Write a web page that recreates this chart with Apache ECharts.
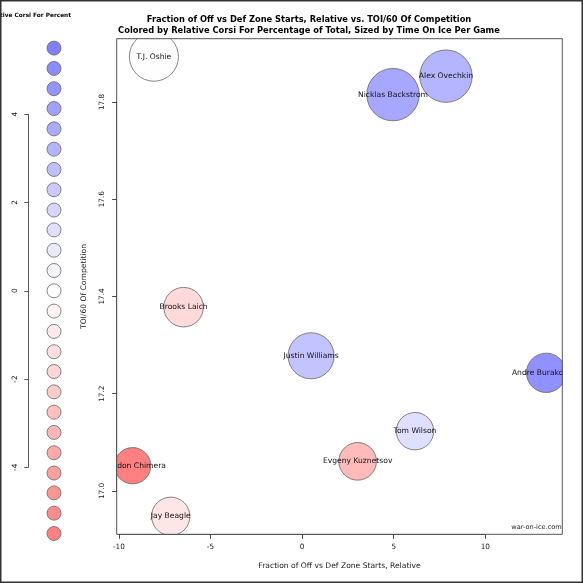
<!DOCTYPE html>
<html>
<head>
<meta charset="utf-8">
<script src="https://cdn.jsdelivr.net/npm/echarts@6.0.0/dist/echarts.min.js"></script>
<style>
  html, body { margin: 0; padding: 0; background: #fff; }
  #main { width: 583px; height: 583px; }
</style>
</head>
<body>
<div id="main"></div>
<script>
// players
var players = ['T.J. Oshie', 'Nicklas Backstrom', 'Alex Ovechkin', 'Brooks Laich', 'Justin Williams',
               'Andre Burakovsky', 'Tom Wilson', 'Evgeny Kuznetsov', 'Brandon Chimera', 'Jay Beagle'];
var zoneStartsRel = [-8.09, 4.96, 7.85, -6.47, 0.49, 13.32, 6.16, 3.03, -9.25, -7.17];
var toiComp = [17.893, 17.815, 17.853, 17.378, 17.278, 17.243, 17.123, 17.061, 17.052, 16.948];
var corsiRel = [0.05, 3.8, 3.2, -1.6, 2.6, 4.8, 1.4, -3.0, -5.5, -1.1];
var toiPerGame = [17.7, 20.2, 20.2, 11.5, 15.6, 11.4, 10.3, 10.4, 9.7, 10.8];

// colour key
var keyValues = [5.5, 5.04, 4.58, 4.13, 3.67, 3.21, 2.75, 2.29, 1.83, 1.38, 0.92, 0.46, 0,
                 -0.46, -0.92, -1.38, -1.83, -2.29, -2.75, -3.21, -3.67, -4.13, -4.58, -5.04, -5.5];

var font = 'DejaVu Sans';
var bubbles = players.map(function (p, i) {
    return [zoneStartsRel[i], toiComp[i], corsiRel[i], toiPerGame[i], p];
});
var key = keyValues.map(function (v) { return ['', v]; });

var tickLabel = {fontFamily: font, fontSize: 7.3, color: '#222'};

var myChart = echarts.init(document.getElementById('main'));
option = {
    backgroundColor: '#fff',
    animation: false,
    title: {
        text: 'Fraction of Off vs Def Zone Starts, Relative vs. TOI/60 Of Competition\nColored by Relative Corsi For Percentage of Total, Sized by Time On Ice Per Game',
        left: 304,
        top: 9,
        textAlign: 'center',
        z: 10,
        textStyle: {fontFamily: font, fontSize: 8.3, fontWeight: 'bold', color: '#000', lineHeight: 11}
    },
    grid: [
        // plot box
        {left: 116.7, top: 38.7, right: 20.7, bottom: 48.7, show: true, borderColor: '#555', borderWidth: 1, z: 10},
        // colour key
        {left: 28.3, top: 114.3, width: 51.4, height: 353},
        // R-style axes spanning only the tick range (-10..10 and 17.0..17.8)
        {left: 118.9, top: 38.7, width: 366.4, bottom: 48.7},
        {left: 116.7, right: 20.7, top: 101.9, height: 389.1}
    ],
    xAxis: [
        {
            type: 'value', gridIndex: 0, min: -10.12, max: 14.2, z: 10,
            name: 'Fraction of Off vs Def Zone Starts, Relative',
            nameLocation: 'middle', nameGap: 28,
            nameTextStyle: {fontFamily: font, fontSize: 7.6, color: '#222'},
            splitLine: {show: false},
            axisLine: {show: false, onZero: false},
            axisTick: {show: false},
            axisLabel: {show: false}
        },
        {type: 'category', gridIndex: 1, data: [''], show: false},
        {
            type: 'value', gridIndex: 2, min: -10, max: 10, interval: 5, z: 10,
            splitLine: {show: false},
            axisLine: {show: true, onZero: false, lineStyle: {color: '#555'}},
            axisTick: {show: true, length: 4.5, lineStyle: {color: '#444'}},
            axisLabel: Object.assign({margin: 9}, tickLabel)
        },
        {type: 'value', gridIndex: 3, min: 0, max: 1, show: false}
    ],
    yAxis: [
        {
            type: 'value', gridIndex: 0, min: 16.911, max: 17.93, z: 10,
            name: 'TOI/60 Of Competition',
            nameLocation: 'middle', nameGap: 29, nameRotate: 90,
            nameTextStyle: {fontFamily: font, fontSize: 7.6, color: '#222'},
            splitLine: {show: false},
            axisLine: {show: false, onZero: false},
            axisTick: {show: false},
            axisLabel: {show: false}
        },
        {
            type: 'value', gridIndex: 1, min: -4, max: 4, interval: 2, z: 10,
            splitLine: {show: false},
            axisLine: {show: true, onZero: false, lineStyle: {color: '#555'}},
            axisTick: {show: true, length: 4, lineStyle: {color: '#555'}},
            axisLabel: Object.assign({rotate: 90, margin: 10}, tickLabel)
        },
        {type: 'value', gridIndex: 2, min: 0, max: 1, show: false},
        {
            type: 'value', gridIndex: 3, min: 17.0, max: 17.8, interval: 0.2, z: 10,
            splitLine: {show: false},
            axisLine: {show: true, onZero: false, lineStyle: {color: '#555'}},
            axisTick: {show: true, length: 4.5, lineStyle: {color: '#444'}},
            axisLabel: Object.assign({
                rotate: 90, margin: 11,
                formatter: function (v) { return v.toFixed(1); }
            }, tickLabel)
        }
    ],
    visualMap: [
        {type: 'continuous', show: false, seriesIndex: 0, dimension: 2, min: -5.5, max: 5.5,
         inRange: {color: ['#ff8080', '#ffffff', '#8080ff']}},
        {type: 'continuous', show: false, seriesIndex: 1, dimension: 1, min: -5.5, max: 5.5,
         inRange: {color: ['#ff8080', '#ffffff', '#8080ff']}}
    ],
    graphic: [
        // small masks where marks spill out of the plot box (R clips them)
        {type: 'rect', z: 5, shape: {x: 60, y: 455, width: 56.2, height: 22}, style: {fill: '#fff'}},
        {type: 'rect', z: 5, shape: {x: 120, y: 28, width: 70, height: 10.2}, style: {fill: '#fff'}},
        {type: 'rect', z: 5, shape: {x: 562.8, y: 345, width: 21, height: 56}, style: {fill: '#fff'}},
        {type: 'rect', z: 5, shape: {x: 140, y: 534.8, width: 60, height: 8}, style: {fill: '#fff'}},
        {type: 'text', z: 10, x: 536.5, y: 527, style: {text: 'war-on-ice.com', textAlign: 'center',
            textVerticalAlign: 'middle', font: '6.6px "DejaVu Sans"', fill: '#222'}},
        {type: 'text', z: 10, x: 71, y: 15, style: {text: 'Relative Corsi For Percent', textAlign: 'right',
            textVerticalAlign: 'middle', font: 'bold 5.8px "DejaVu Sans"', fill: '#000'}},
        {type: 'rect', z: 20, shape: {x: 0.75, y: 0.75, width: 581.5, height: 581.5},
            style: {fill: 'none', stroke: '#333', lineWidth: 1.5}}
    ],
    series: [
        {
            name: 'players',
            type: 'scatter',
            xAxisIndex: 0, yAxisIndex: 0,
            z: 2,
            clip: false,
            data: bubbles,
            symbolSize: function (d) { return 2 * 5.83 * Math.sqrt(d[3]); },
            itemStyle: {borderColor: '#666', borderWidth: 0.8, opacity: 1},
            label: {
                show: true, position: 'inside',
                formatter: function (p) { return p.data[4]; },
                fontFamily: font, fontSize: 7.6, color: '#111'
            }
        },
        {
            name: 'key',
            type: 'scatter',
            xAxisIndex: 1, yAxisIndex: 1,
            z: 6,
            clip: false,
            data: key,
            symbolSize: 14,
            itemStyle: {borderColor: '#666', borderWidth: 0.8, opacity: 1}
        }
    ]
};
myChart.setOption(option);
window.onresize = myChart.resize;
</script>
</body>
</html>
